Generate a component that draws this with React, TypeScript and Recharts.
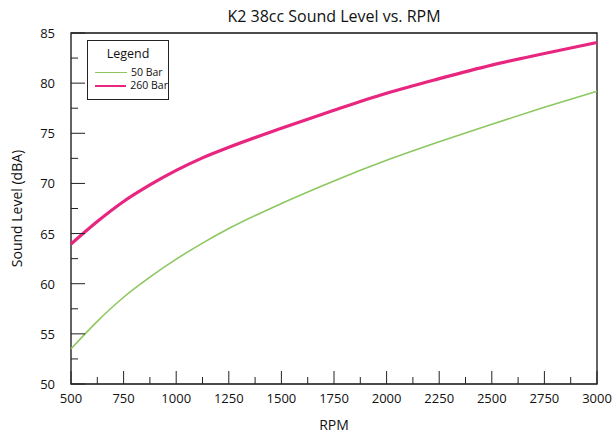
import React from "react";
import { LineChart, Line, XAxis, YAxis, ReferenceArea, Legend } from "recharts";

const rpm = [500, 625, 750, 875, 1000, 1125, 1250, 1500, 1750, 2000, 2250, 2500, 2750, 3000];
const bar50 = [53.5, 56.25, 58.65, 60.65, 62.45, 64.05, 65.5, 68.0, 70.25, 72.3, 74.15, 75.9, 77.6, 79.2];
const bar260 = [63.95, 66.2, 68.2, 69.85, 71.3, 72.55, 73.6, 75.5, 77.3, 79.0, 80.45, 81.8, 82.95, 84.05];

const seriesNames = ["50 Bar", "260 Bar"];

const xMajor = [500, 750, 1000, 1250, 1500, 1750, 2000, 2250, 2500, 2750, 3000];
const xMinor = [625, 875, 1125, 1375, 1625, 1875, 2125, 2375, 2625, 2875];
const yMajor = [50, 55, 60, 65, 70, 75, 80, 85];
const yMinor = [52.5, 57.5, 62.5, 67.5, 72.5, 77.5, 82.5];

const data = rpm.map((r, i) => ({ rpm: r, b50: bar50[i], b260: bar260[i] }));
const xTicks = [...xMajor, ...xMinor].sort((a, b) => a - b);
const yTicks = [...yMajor, ...yMinor].sort((a, b) => a - b);

const FONT = "'Open Sans', sans-serif";

const XTick = (props: any) => {
  const { x, y, payload } = props;
  const major = xMajor.includes(payload.value);
  return (
    <g>
      <line x1={x} x2={x} y1={y} y2={y - (major ? 13 : 7)} stroke="#222" strokeWidth={1} />
      {major && (
        <text x={x} y={y + 19} textAnchor="middle" fontSize={13} fontFamily={FONT} fill="#111">
          {payload.value}
        </text>
      )}
    </g>
  );
};

const YTick = (props: any) => {
  const { x, y, payload } = props;
  const major = yMajor.includes(payload.value);
  return (
    <g>
      <line x1={x} x2={x + (major ? 14 : 7)} y1={y} y2={y} stroke="#222" strokeWidth={1} />
      {major && (
        <text x={x - 16} y={y + 5} textAnchor="end" fontSize={13} fontFamily={FONT} fill="#111">
          {payload.value}
        </text>
      )}
    </g>
  );
};

const LegendBox = (props: any) => {
  const payload = [...(props.payload || [])].sort(
    (a: any, b: any) => seriesNames.indexOf(a.value) - seriesNames.indexOf(b.value)
  );
  return (
    <div
      style={{
        border: "1px solid #222",
        width: 82,
        height: 60,
        boxSizing: "border-box",
        background: "#fff",
        fontFamily: FONT,
        color: "#111",
        whiteSpace: "nowrap",
      }}
    >
      <div style={{ fontSize: 12.5, textAlign: "center", marginTop: 5, marginBottom: 5, lineHeight: "15px" }}>Legend</div>
      {payload.map((p: any) => (
        <div key={p.value} style={{ display: "flex", alignItems: "center", height: 13, paddingLeft: 7 }}>
          <div style={{ width: 32, height: 0, borderTop: `${p.value === "260 Bar" ? 2 : 1.5}px solid ${p.color}` }} />
          <span style={{ fontSize: 10.5, marginLeft: 4, lineHeight: "13px" }}>{p.value}</span>
        </div>
      ))}
    </div>
  );
};

export default function App() {
  return (
    <div style={{ position: "absolute", left: 0, top: 0, width: 616, height: 437, background: "#fff" }}>
      <LineChart
        width={616}
        height={437}
        data={data}
        margin={{ top: 33, right: 19, bottom: 23, left: 0 }}
      >
        <text x={334} y={22} textAnchor="middle" fontSize={16} fontFamily={FONT} fill="#111">
          K2 38cc Sound Level vs. RPM
        </text>
        <XAxis
          dataKey="rpm"
          type="number"
          domain={[500, 3000]}
          ticks={xTicks}
          interval={0}
          tickSize={0}
          tickMargin={0}
          tickLine={false}
          axisLine={false}
          tick={<XTick />}
          height={30}
          label={{ value: "RPM", position: "insideBottom", offset: -16, fontSize: 14, fontFamily: FONT, fill: "#111" }}
        />
        <YAxis
          type="number"
          domain={[50, 85]}
          ticks={yTicks}
          interval={0}
          tickSize={0}
          tickMargin={0}
          tickLine={false}
          axisLine={false}
          tick={<YTick />}
          width={71}
          label={{ value: "Sound Level (dBA)", angle: -90, position: "insideLeft", offset: 17, style: { textAnchor: "middle" }, fontSize: 14, fontFamily: FONT, fill: "#111" }}
        />
        <ReferenceArea x1={500} x2={3000} y1={50} y2={85} fill="none" stroke="#111" strokeWidth={1.3} ifOverflow="visible" />
        <Line type="monotone" dataKey="b50" name="50 Bar" stroke="#8dc760" strokeWidth={1.6} dot={false} isAnimationActive={false} />
        <Line type="monotone" dataKey="b260" name="260 Bar" stroke="#e8257f" strokeWidth={3.2} dot={false} isAnimationActive={false} />
        <Legend
          content={<LegendBox />}
          layout="horizontal"
          verticalAlign="middle"
          align="center"
          wrapperStyle={{ position: "absolute", left: 87, top: 40, width: 82, height: 60 }}
        />
      </LineChart>
    </div>
  );
}
